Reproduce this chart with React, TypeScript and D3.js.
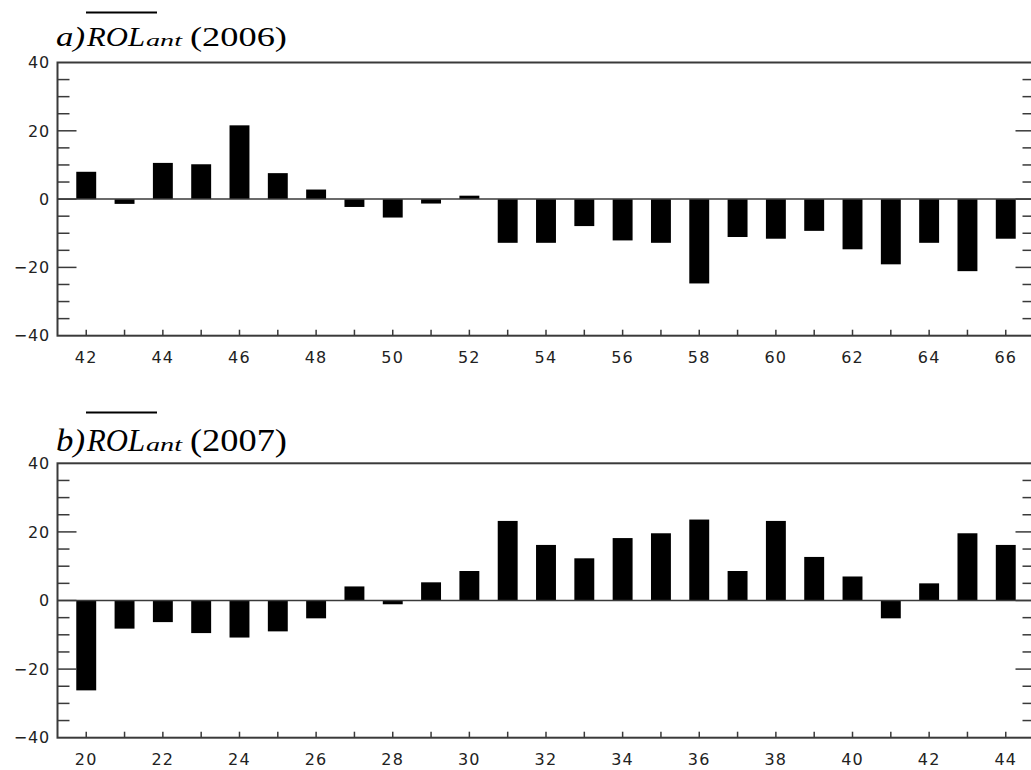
import React from "react";
import * as d3 from "d3";

const pentadsA = [42,43,44,45,46,47,48,49,50,51,52,53,54,55,56,57,58,59,60,61,62,63,64,65,66];
const valuesA = [8.0,-1.4,10.6,10.2,21.6,7.6,2.8,-2.3,-5.4,-1.3,1.0,-12.8,-12.8,-7.9,-12.1,-12.8,-24.7,-11.1,-11.6,-9.3,-14.7,-19.1,-12.8,-21.1,-11.6];
const pentadsB = [20,21,22,23,24,25,26,27,28,29,30,31,32,33,34,35,36,37,38,39,40,41,42,43,44];
const valuesB = [-26.2,-8.2,-6.3,-9.5,-10.8,-9.0,-5.2,4.1,-1.1,5.3,8.6,23.2,16.2,12.3,18.2,19.6,23.6,8.6,23.2,12.7,7.0,-5.2,5.0,19.6,16.2];
const yTickValues = [-40,-35,-30,-25,-20,-15,-10,-5,0,5,10,15,20,25,30,35,40];
const yLabelValues = [-40,-20,0,20,40];

const AXIS = "#3a3a3a";
const LABEL_FONT = "'DejaVu Sans', Verdana, sans-serif";
const SERIF = "'Liberation Serif', 'Times New Roman', serif";

type PanelProps = {
  cats: number[];
  vals: number[];
  top: number;
  bottom: number;
  letter: string;
  year: string;
  titleBase: number;
  titleSize: number;
  overY: number;
};

function fmt(v: number) {
  return v < 0 ? "\u2212" + Math.abs(v) : String(v);
}

function Panel({ cats, vals, top, bottom, letter, year, titleBase, titleSize, overY }: PanelProps) {
  const left = 57.5;
  const right = 1034.5;
  const x = d3.scaleLinear().domain([cats[0] - 0.75, cats[cats.length - 1] + 0.75]).range([left, right]);
  const y = d3.scaleLinear().domain([-40, 40]).range([bottom, top]);
  const bw = 0.52 * (x(1) - x(0));
  const labelCats = cats.filter((c) => c % 2 === 0);
  const small = titleSize * 0.62;
  return (
    <g>
      {/* title */}
      <g fontFamily={SERIF} fill="#000">
        <text x={56} y={titleBase} fontSize={titleSize} fontStyle="italic" textLength={29} lengthAdjust="spacingAndGlyphs">{letter + ")"}</text>
        <text x={87} y={titleBase} fontSize={titleSize} fontStyle="italic" textLength={58} lengthAdjust="spacingAndGlyphs">ROL</text>
        <text x={146} y={titleBase} fontSize={small} fontStyle="italic" textLength={36} lengthAdjust="spacingAndGlyphs">ant</text>
        <text x={190} y={titleBase} fontSize={titleSize} textLength={97} lengthAdjust="spacingAndGlyphs">{"(" + year + ")"}</text>
        <line x1={86} x2={157} y1={overY} y2={overY} stroke="#000" strokeWidth={2} />
      </g>
      {/* bars */}
      {cats.map((c, i) => {
        const v = vals[i];
        const y0 = y(0);
        const yv = y(v);
        return (
          <rect key={c} x={x(c) - bw / 2} y={Math.min(y0, yv)} width={bw} height={Math.abs(yv - y0)} fill="#000" />
        );
      })}
      {/* zero line */}
      <line x1={left} x2={right} y1={y(0)} y2={y(0)} stroke={AXIS} strokeWidth={1.5} />
      {/* frame */}
      <rect x={left} y={top} width={right - left} height={bottom - top} fill="none" stroke={AXIS} strokeWidth={2} />
      {/* y ticks */}
      {yTickValues.filter((v) => Math.abs(v) < 40).map((v) => {
        const len = v % 20 === 0 ? 19 : 12;
        return (
          <g key={"yt" + v}>
            <line x1={left} x2={left + len} y1={y(v)} y2={y(v)} stroke={AXIS} strokeWidth={1.5} />
            <line x1={right} x2={right - len} y1={y(v)} y2={y(v)} stroke={AXIS} strokeWidth={1.5} />
          </g>
        );
      })}
      {yLabelValues.map((v) => (
        <text key={"yl" + v} x={50} y={y(v)} dy="0.36em" textAnchor="end" fontFamily={LABEL_FONT} fontSize={16} fill="#222" letterSpacing={0.8}>
          {fmt(v)}
        </text>
      ))}
      {/* x ticks */}
      {cats.map((c) => (
        <line key={"xt" + c} x1={x(c)} x2={x(c)} y1={bottom} y2={bottom - 6} stroke={AXIS} strokeWidth={1.5} />
      ))}
      {labelCats.map((c) => (
        <text key={"xl" + c} x={x(c)} y={bottom + 27} textAnchor="middle" fontFamily={LABEL_FONT} fontSize={16} fill="#222" letterSpacing={1.2}>
          {String(c)}
        </text>
      ))}
    </g>
  );
}

export default function App() {
  return (
    <svg width={1031} height={770} style={{ position: "absolute", left: 0, top: 0, background: "#fff" }}>
      <rect x={0} y={0} width={1031} height={770} fill="#fff" />
      <Panel cats={pentadsA} vals={valuesA} top={62.5} bottom={335.7} letter="a" year="2006" titleBase={46} titleSize={28} overY={12.5} />
      <Panel cats={pentadsB} vals={valuesB} top={463.3} bottom={737.7} letter="b" year="2007" titleBase={451} titleSize={31} overY={412.5} />
    </svg>
  );
}
